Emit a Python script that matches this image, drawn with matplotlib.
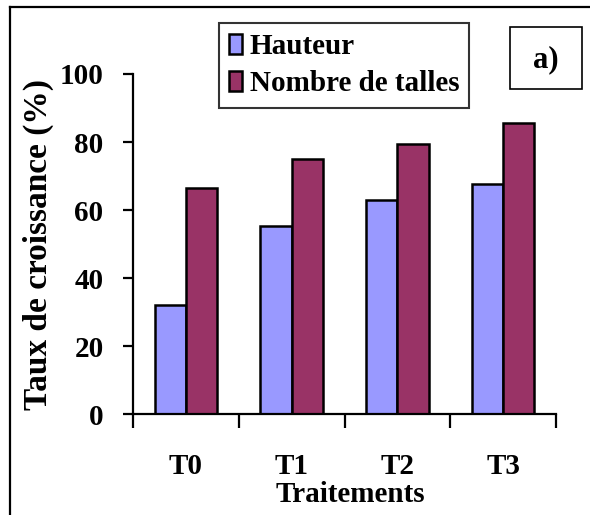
import matplotlib
matplotlib.use('Agg')
import matplotlib.pyplot as plt
import numpy as np
from matplotlib.patches import Rectangle
from matplotlib.lines import Line2D

traitements = ['T0', 'T1', 'T2', 'T3']
hauteur = [32.1, 55.2, 63.0, 67.7]
nombre_talles = [66.5, 75.0, 79.5, 85.5]
yticks = [0, 20, 40, 60, 80, 100]

plt.rcParams['font.family'] = 'Liberation Serif'
plt.rcParams['font.weight'] = 'bold'

W, H = 590, 515
fig = plt.figure(figsize=(W / 100, H / 100), dpi=100)
ax = fig.add_axes([133 / W, 1 - 414.3 / H, 423 / W, 340.3 / H])

x = np.arange(len(traitements))
bw = 0.295
ax.bar(x - bw / 2, hauteur, bw, color='#9999FF', edgecolor='black', linewidth=1.8, label='Hauteur')
ax.bar(x + bw / 2, nombre_talles, bw, color='#993366', edgecolor='black', linewidth=1.8, label='Nombre de talles')

ax.set_xlim(-0.5, 3.5)
ax.set_ylim(0, 100)
for s in ['top', 'right']:
    ax.spines[s].set_visible(False)
for s in ['left', 'bottom']:
    ax.spines[s].set_linewidth(1.6)

# category borders as major ticks, names on minor ticks
ax.set_xticks(np.arange(-0.5, 4, 1))
ax.set_xticklabels([])
ax.set_xticks(x, minor=True)
ax.set_xticklabels(traitements, minor=True, fontsize=21, fontweight='bold')
ax.tick_params(axis='x', which='major', direction='out', length=10, width=1.6)
ax.tick_params(axis='x', which='minor', length=0, pad=28)

ax.set_yticks(yticks)
ax.set_yticklabels([str(v) for v in yticks], fontsize=21, fontweight='bold')
ax.tick_params(axis='y', direction='out', length=7.2, width=1.6, pad=14)

ax.set_ylabel('Taux de croissance (%)', fontsize=24, fontweight='bold', va='center')
ax.yaxis.set_label_coords((38 - 133) / 423, 0.5)
ax.set_xlabel('Traitements', fontsize=21, fontweight='bold', va='center')
ax.xaxis.set_label_coords((350 - 133) / 423, (414.3 - 495) / 340.3)

leg = fig.legend(loc='upper left', bbox_to_anchor=(219 / W, 1 - 23 / H), borderaxespad=0,
                 fontsize=21, fancybox=False, frameon=True, handlelength=0.45,
                 handleheight=0.7, handletextpad=0.25, labelspacing=0.35, borderpad=0.35)
leg.get_frame().set_edgecolor('black')
leg.get_frame().set_linewidth(1.5)

# panel tag box
fig.add_artist(Rectangle((510 / W, 1 - 89 / H), 72 / W, 62 / H, transform=fig.transFigure,
                         fill=False, edgecolor='black', linewidth=1.2))
fig.text(546 / W, 1 - 60 / H, 'a)', ha='center', va='center', fontsize=22, fontweight='bold')

# outer frame (top and left edges)
fig.add_artist(Line2D([10 / W, 1], [1 - 7 / H, 1 - 7 / H], color='black', linewidth=1.6,
                      transform=fig.transFigure))
fig.add_artist(Line2D([10 / W, 10 / W], [0, 1 - 7 / H], color='black', linewidth=1.6,
                      transform=fig.transFigure))

plt.savefig('out.png', dpi=100)
